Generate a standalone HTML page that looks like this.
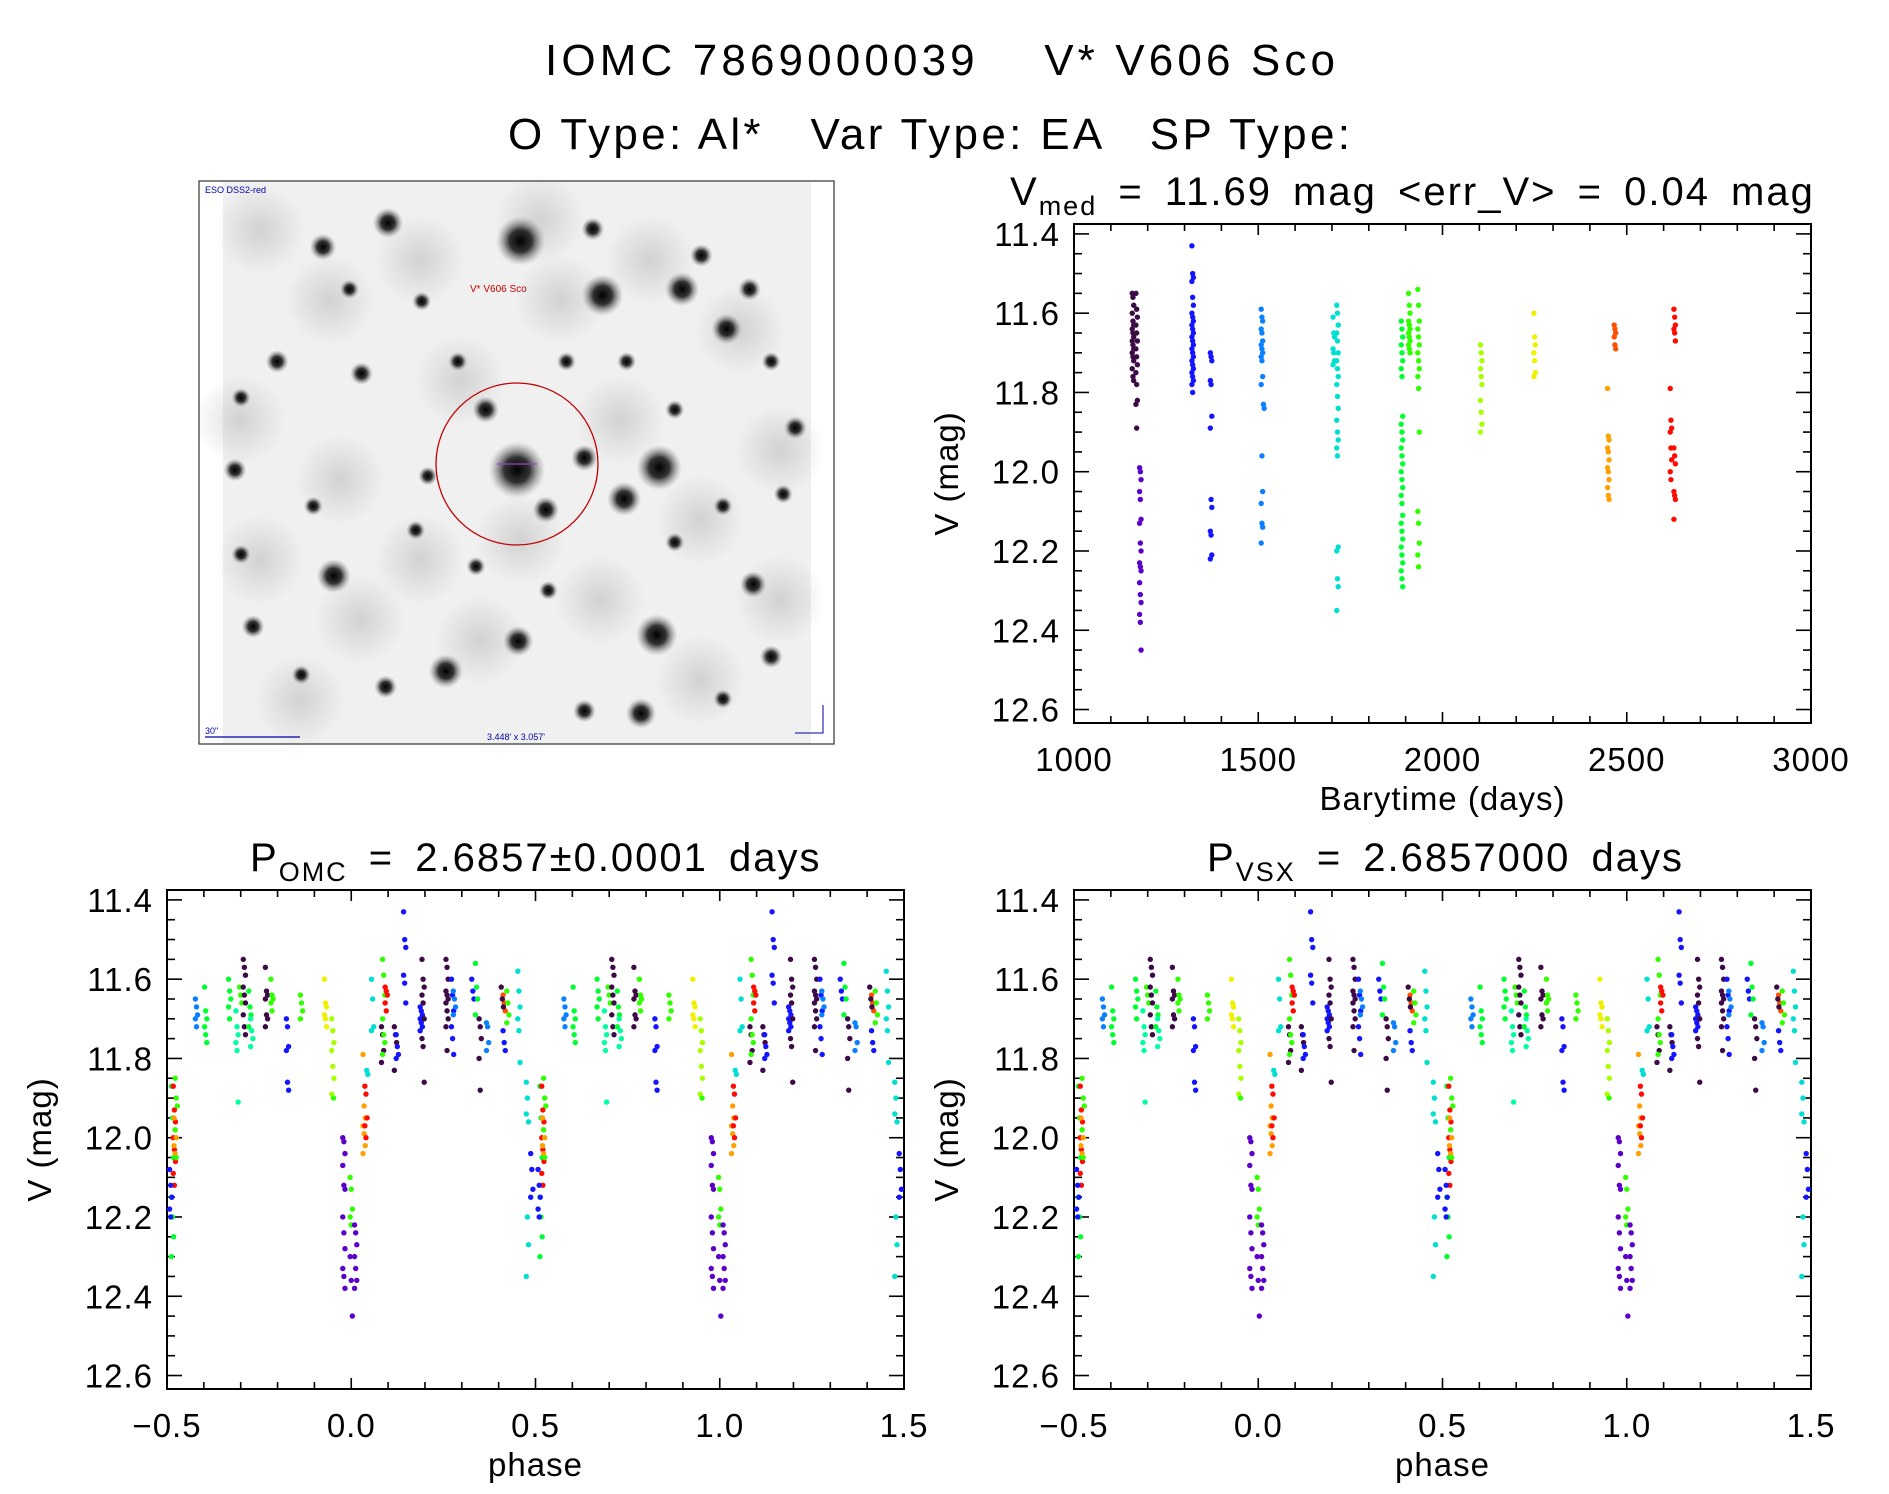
<!DOCTYPE html>
<html><head><meta charset="utf-8"><style>
html,body{margin:0;padding:0;background:#fff;}
svg{display:block;font-family:"Liberation Sans",sans-serif;}
text{white-space:pre;}
</style></head><body>
<svg id="fig" width="1889" height="1494" viewBox="0 0 1889 1494" xmlns="http://www.w3.org/2000/svg">
<defs>
<radialGradient id="star"><stop offset="0" stop-color="#000" stop-opacity="1"/><stop offset="0.45" stop-color="#111" stop-opacity="0.85"/><stop offset="1" stop-color="#888" stop-opacity="0"/></radialGradient>
<radialGradient id="mott"><stop offset="0" stop-color="#999" stop-opacity="0.35"/><stop offset="1" stop-color="#999" stop-opacity="0"/></radialGradient>
</defs>
<text x="940" y="75" font-size="44" text-anchor="middle" textLength="790">IOMC 7869000039    V* V606 Sco</text>
<text x="929" y="149" font-size="44" text-anchor="middle" textLength="842">O Type: Al*   Var Type: EA   SP Type:</text>
<g id="img"></g>
<g id="p1"></g>
<g id="p2"></g>
<g id="p3"></g>
</svg>
<script>
const NS="http://www.w3.org/2000/svg";
const colorNames=["#3c0a46","#5a00c8","#1414ff","#0a80ff","#00e0d0","#00ffa0","#00ff30","#30ff00","#a8ff00","#f0f000","#ffa000","#ff5000","#ff0a00"];
// time series: cluster times, colors, magnitudes
const tsTime=[1160,1170,1180,1322,1372,1510,1516,1705,1715,1890,1910,1935,2105,2250,2450,2468,2620,2630];
const tsColor=[0,0,1,2,2,3,3,4,4,6,7,7,8,9,10,11,12,12];
const tsMags=[
[11.55,11.56,11.58,11.6,11.62,11.63,11.64,11.65,11.66,11.67,11.68,11.69,11.7,11.71,11.72,11.74,11.76,11.77],
[11.55,11.59,11.61,11.63,11.65,11.67,11.69,11.71,11.73,11.75,11.78,11.82,11.83,11.89],
[11.99,12.0,12.02,12.05,12.07,12.12,12.13,12.18,12.2,12.23,12.24,12.25,12.28,12.31,12.33,12.36,12.38,12.45],
[11.43,11.5,11.51,11.52,11.56,11.58,11.6,11.61,11.62,11.63,11.64,11.65,11.66,11.67,11.68,11.69,11.7,11.71,11.72,11.73,11.74,11.75,11.76,11.77,11.78,11.8],
[11.7,11.71,11.72,11.77,11.78,11.86,11.89,12.07,12.09,12.15,12.16,12.21,12.22],
[11.59,11.61,11.62,11.64,11.65,11.67,11.68,11.69,11.7,11.71,11.72,11.76,11.78,11.96,12.05,12.08,12.13,12.14,12.18],
[11.83,11.84],
[11.61,11.65,11.66,11.69,11.7,11.72,11.73],
[11.58,11.6,11.63,11.65,11.67,11.7,11.72,11.74,11.76,11.78,11.81,11.84,11.87,11.9,11.92,11.94,11.96,12.19,12.2,12.27,12.29,12.35],
[11.62,11.64,11.66,11.68,11.7,11.72,11.74,11.76,11.86,11.88,11.9,11.92,11.94,11.96,11.98,12.0,12.02,12.04,12.06,12.08,12.11,12.13,12.15,12.17,12.19,12.21,12.23,12.25,12.27,12.29],
[11.55,11.58,11.6,11.62,11.63,11.64,11.65,11.66,11.67,11.68,11.69,11.7],
[11.54,11.58,11.62,11.64,11.66,11.68,11.7,11.72,11.74,11.76,11.79,11.9,12.1,12.13,12.18,12.21,12.24],
[11.68,11.7,11.72,11.74,11.76,11.78,11.82,11.85,11.88,11.9],
[11.6,11.66,11.68,11.7,11.72,11.75,11.76],
[11.79,11.91,11.92,11.94,11.95,11.97,11.99,12.0,12.02,12.04,12.06,12.07],
[11.63,11.64,11.65,11.66,11.68,11.69],
[11.79,11.87,11.89,11.9,11.94,11.97,12.0,12.02],
[11.59,11.61,11.63,11.64,11.65,11.67,11.94,11.96,11.98,12.05,12.06,12.07,12.12]];
// phase-folded: cluster phase, color, magnitudes
const phPhase=[-0.485,-0.48,-0.478,-0.475,-0.49,-0.42,-0.395,-0.33,-0.31,-0.3,-0.29,-0.275,-0.27,-0.23,-0.215,-0.173,-0.135,-0.07,-0.05,-0.045,-0.02,0.0,0.0,0.012,0.035,0.04,0.045,0.058,0.085,0.088,0.095,0.12,0.125,0.145,0.19,0.195,0.26,0.275,0.28,0.33,0.34,0.35,0.37,0.415,0.41,0.425,0.415,0.455,0.478,0.49];
const phColor=[6,12,10,7,2,3,6,6,5,7,0,6,5,0,7,2,7,9,8,7,1,7,1,1,10,12,4,4,0,7,12,0,2,2,2,0,0,2,3,2,6,0,3,11,0,7,2,4,4,2];
const phMags=[
[11.87,11.95,12.05,12.15,12.2,12.25,12.3],[11.87,11.93,11.96,12.0,12.03,12.06,12.09,12.12],[11.95,11.98,12.0,12.02,12.04],[11.85,11.9,11.92,11.98,12.05],[12.08,12.12,12.15,12.18,12.2],
[11.65,11.67,11.69,11.7,11.72],[11.62,11.68,11.7,11.72,11.74,11.76],[11.6,11.63,11.65,11.67,11.7],[11.68,11.72,11.74,11.76,11.78,11.91],[11.62,11.64,11.66],
[11.55,11.57,11.59,11.62,11.64,11.66,11.69,11.72,11.74],[11.63,11.67,11.69,11.72],[11.7,11.73,11.75,11.77],[11.57,11.63,11.64,11.65,11.69,11.7,11.72],[11.6,11.64,11.65,11.66,11.68],
[11.7,11.72,11.77,11.78,11.86,11.88],[11.64,11.66,11.68,11.7],[11.6,11.66,11.67,11.69,11.7,11.72],[11.7,11.73,11.76,11.78,11.82,11.85,11.89],[11.9],
[12.0,12.01,12.04,12.07,12.12,12.13,12.2,12.24,12.28,12.33,12.35,12.38],[12.1,12.13,12.18,12.2,12.22],[12.3,12.36,12.45],[12.22,12.24,12.27,12.3,12.33,12.36,12.38],
[11.79,11.92,11.95,11.97,11.99,12.02,12.04],[11.87,11.89,11.95,11.97,12.0],[11.83,11.84],[11.6,11.65,11.72,11.73],[11.72,11.74,11.78,11.81],
[11.55,11.59,11.64,11.7,11.74,11.76,11.79],[11.62,11.63,11.64,11.66,11.68],[11.72,11.74,11.76,11.83],[11.74,11.77,11.79,11.8],[11.43,11.5,11.52,11.59,11.61,11.66],
[11.67,11.68,11.69,11.7,11.71,11.72,11.73],[11.55,11.6,11.62,11.64,11.66,11.7,11.75,11.77,11.86],[11.55,11.57,11.6,11.63,11.64,11.65,11.66,11.68,11.7,11.72,11.78],
[11.6,11.64,11.68,11.72,11.75,11.79],[11.63,11.65,11.67,11.69],[11.6,11.63,11.65],[11.56,11.62,11.65,11.69],[11.7,11.72,11.75,11.8,11.88],[11.71,11.72,11.76,11.78],
[11.64,11.66,11.68],[11.62,11.65,11.67],[11.63,11.66,11.69,11.71],[11.73,11.76,11.78],[11.58,11.63,11.67,11.7,11.73,11.81],[11.86,11.9,11.96,11.94,12.2,12.27,12.35],[12.04,12.08,12.13,12.15]];
const magTicks=["11.4","11.6","11.8","12.0","12.2","12.4","12.6"];
const timeTicks=["1000","1500","2000","2500","3000"];
const phaseTicks=["\u22120.5","0.0","0.5","1.0","1.5"];

function el(tag,attrs,parent){const e=document.createElementNS(NS,tag);for(const k in attrs)e.setAttribute(k,attrs[k]);parent.appendChild(e);return e;}

function panel(g,L,T,R,B,xmin,xmax,xMajor,xMinor,xLabels,xtitle,ytitle,title,sub,titleX,restTitle){
  const ymin=11.375,ymax=12.634;
  const sx=v=>L+(v-xmin)/(xmax-xmin)*(R-L);
  const sy=v=>T+(v-ymin)/(ymax-ymin)*(B-T);
  const fr=el('rect',{x:L,y:T,width:R-L,height:B-T,fill:'none',stroke:'#000','stroke-width':2},g);
  
  
  for(let m=11.4;m<=12.6001;m+=0.05){
    const major=Math.abs((m-11.4)/0.2-Math.round((m-11.4)/0.2))<0.01;const len=major?15:8;const y=sy(m);
    el('line',{x1:L,y1:y,x2:L+len,y2:y,stroke:'#000','stroke-width':1.6},g);
    el('line',{x1:R,y1:y,x2:R-len,y2:y,stroke:'#000','stroke-width':1.6},g);
  }
  magTicks.forEach((t,i)=>{const y=sy(parseFloat(t));const tx=el('text',{x:L-14,y:y+12,'font-size':33,'text-anchor':'end','letter-spacing':1},g);tx.textContent=t;
    
    });
  for(let v=xmin;v<=xmax+1e-9;v+=xMinor){
    const major=Math.abs((v-xmin)/xMajor-Math.round((v-xmin)/xMajor))<0.01;const len=major?11:7;const x=sx(v);
    el('line',{x1:x,y1:B,x2:x,y2:B-len,stroke:'#000','stroke-width':1.6},g);
    el('line',{x1:x,y1:T,x2:x,y2:T+len,stroke:'#000','stroke-width':1.6},g);
  }
  xLabels.forEach((t,i)=>{const v=xmin+i*xMajor;const tx=el('text',{x:sx(v),y:B+48,'font-size':33,'text-anchor':'middle','letter-spacing':1},g);tx.textContent=t;
    
    });
  const xt=el('text',{x:(L+R)/2,y:B+87,'font-size':33,'text-anchor':'middle','letter-spacing':1},g);xt.textContent=xtitle;
  
  
  const yt=el('text',{x:0,y:0,'font-size':33,'text-anchor':'middle','letter-spacing':1,transform:`translate(${L-116},${(T+B)/2}) rotate(-90)`},g);yt.textContent=ytitle;
  
  
  const tt=el('text',{x:titleX,y:T-19,'font-size':40,'letter-spacing':2,'word-spacing':8},g);
  
  
  const a=el('tspan',{},tt);a.textContent=title;
  const b=el('tspan',{dy:10,'font-size':27},tt);b.textContent=sub;
  const c=el('tspan',{dy:-10},tt);c.textContent=restTitle;
  return {sx,sy};
}

function dot(g,x,y,c){const d=el('circle',{cx:x,cy:y,r:2.7,fill:c},g);
  
  }

(function(){
  const g=document.getElementById('p1');
  const ax=panel(g,1074,224,1811,723,1000,3000,500,100,timeTicks,'Barytime (days)','V (mag)','V','med',1010,' = 11.69 mag <err_V> = 0.04 mag');
  tsTime.forEach((t,i)=>tsMags[i].forEach((m,j)=>dot(g,ax.sx(t+(j%3-1)*2),ax.sy(m),colorNames[tsColor[i]])));
})();
function phasePanel(id,L,sub,rest,tx){
  const g=document.getElementById(id);
  const ax=panel(g,L,890,L+737,1389,-0.5,1.5,0.5,0.1,phaseTicks,'phase','V (mag)','P',sub,tx,rest);
  phPhase.forEach((p,i)=>phMags[i].forEach((m,j)=>{
    const c=colorNames[phColor[i]];const off=(j%3-1)*0.003;
    [p,p+1].forEach(q=>{if(q+off>=-0.5&&q+off<=1.5)dot(g,ax.sx(q+off),ax.sy(m),c);});
  }));
}
phasePanel('p2',167,'OMC',' = 2.6857\u00b10.0001 days',250);
phasePanel('p3',1074,'VSX',' = 2.6857000 days',1207);

(function(){
  const g=document.getElementById('img');
  const bg=el('rect',{x:223,y:181,width:588,height:563,fill:'#f0f0f0'},g);
  
  
  const mott=[[260,230],[330,300],[420,260],[560,300],[650,260],[740,330],[780,450],[700,520],[600,600],[480,640],[360,620],[260,560],[240,420],[340,480],[620,420],[520,540],[420,560],[700,680],[300,700],[780,600],[540,220],[460,380]];
  mott.forEach(m=>el('circle',{cx:m[0],cy:m[1],r:45,fill:'url(#mott)'},g));
  el('rect',{x:199,y:181,width:635,height:563,fill:'none',stroke:'#333','stroke-width':1.2},g);
  const stars=[[432,200,13],[500,245,11],[566,240,9],[603,273,8],[547,388,12],[518,414,9],[429,390,15],[453,423,7],[485,380,7],[403,340,7],[322,185,8],[268,205,7],[582,212,6],[277,478,9],[195,390,6],[545,527,11],[370,557,9],[430,532,8],[532,592,8],[625,485,7],[660,355,6],[210,520,6],[300,310,6],[230,300,6],[622,240,6],[492,190,6],[350,250,5],[640,300,5],[455,490,5],[395,470,5],[485,590,6],[320,570,6],[250,560,5],[600,580,5],[640,545,6],[200,460,5],[560,450,5],[355,395,5],[200,330,5],[290,240,5],[380,300,5],[520,300,5],[260,420,5],[600,420,5],[470,300,5],[345,440,5],[560,340,5],[650,410,5]];
  stars.forEach(s=>{const c=el('circle',{cx:s[0]*1.205,cy:s[1]*1.205,r:s[2]*1.9,fill:'url(#star)'},g);
    
    });
  const ring=el('circle',{cx:517,cy:464,r:81,fill:'none',stroke:'#c00000','stroke-width':1.3},g);
  
  
  el('line',{x1:497,y1:464,x2:537,y2:464,stroke:'#a040c0','stroke-width':1.2},g);
  const t1=el('text',{x:205,y:193,'font-size':9,fill:'#0000a0'},g);t1.textContent='ESO DSS2-red';
  
  
  const t2=el('text',{x:470,y:292,'font-size':10,fill:'#c00000'},g);t2.textContent='V* V606 Sco';
  
  
  el('line',{x1:205,y1:737,x2:300,y2:737,stroke:'#0000a0','stroke-width':1.2},g);
  const t3=el('text',{x:205,y:734,'font-size':9,fill:'#0000a0'},g);t3.textContent='30"';
  
  
  const t4=el('text',{x:487,y:740,'font-size':9,fill:'#0000a0'},g);t4.textContent="3.448' x 3.057'";
  
  
  el('path',{d:'M823 705 V733 H795',fill:'none',stroke:'#0000a0','stroke-width':1},g);
})();
</script>
</body></html>
